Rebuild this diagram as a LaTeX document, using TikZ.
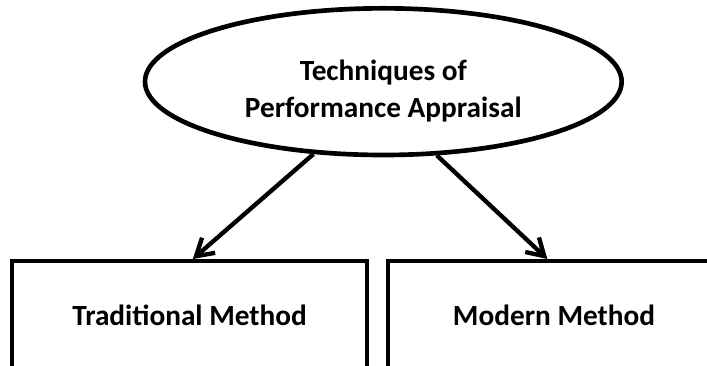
\documentclass[tikz,border=0pt]{standalone}
\usepackage{fontspec}
\setmainfont{Carlito}
\usetikzlibrary{shapes,arrows.meta,positioning}

\tikzset{
  oval/.style={draw, ellipse, line width=0.14cm, minimum width=14.3cm, minimum height=4.4cm, inner sep=0pt},
  methodbox/.style={draw, rectangle, line width=0.13cm, anchor=north, minimum height=3.24cm, inner sep=0pt},
  lbl/.style={font=\bfseries\fontsize{25pt}{32pt}\selectfont, align=center},
  arr/.style={line width=0.13cm, -{Straight Barb[length=5mm, width=6mm]}}
}

\begin{document}
\begin{tikzpicture}
  \useasboundingbox (0,0) rectangle (21.21,-10.98);
  \node[oval] (tech) at (11.5,-2.45) {};
  \node[lbl] (techtitle) at ([yshift=-0.28cm]tech.center) {Techniques of\\Performance Appraisal};
  \node[methodbox, lbl, minimum width=10.65cm] (trad) at (5.685,-7.77) {Traditional Method};
  \node[methodbox, lbl, minimum width=9.96cm] (mod) at (16.62,-7.77) {Modern Method};
  \draw[arr] (tech.226) -- ([xshift=0.1cm]trad.north);
  \draw[arr] (tech.306) -- ([xshift=-0.2cm]mod.north);
\end{tikzpicture}
\end{document}
